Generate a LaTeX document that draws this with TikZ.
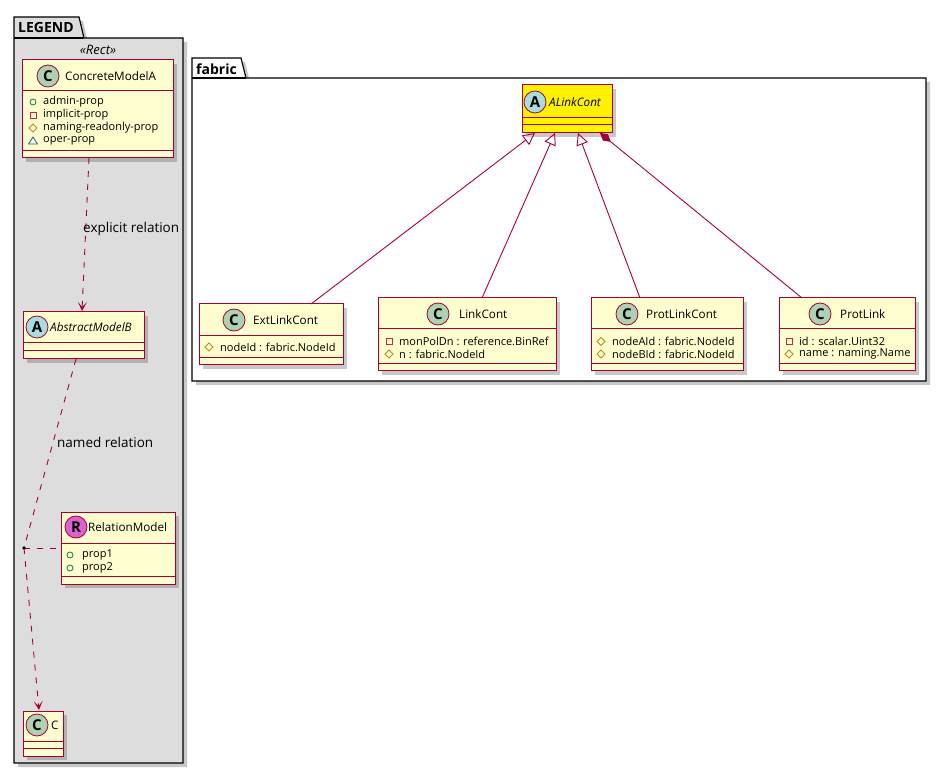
\documentclass[tikz,border=0pt]{standalone}
\usepackage{fontspec}
\setmainfont{Open Sans}
\usetikzlibrary{shadows,arrows.meta,calc}
\definecolor{bord}{HTML}{A80036}
\definecolor{classbg}{HTML}{FEFECE}
\definecolor{legendbg}{HTML}{DDDDDD}
\definecolor{cgreen}{HTML}{ADD1B2}
\definecolor{cblue}{HTML}{A9DCDF}
\definecolor{cmag}{HTML}{DA62CF}
\definecolor{pubc}{HTML}{038048}
\definecolor{privc}{HTML}{C82930}
\definecolor{protc}{HTML}{B38D22}
\definecolor{pkgc}{HTML}{1963A0}
\newcommand\pubicon[2]{\draw[pubc,line width=0.8pt] (#1,#2) circle (3);}
\newcommand\privicon[2]{\draw[privc,line width=0.8pt] ({#1-3},{#2-3}) rectangle ({#1+3},{#2+3});}
\newcommand\proticon[2]{\draw[protc,line width=0.8pt] ({#1},{#2-4}) -- ({#1+4},{#2}) -- ({#1},{#2+4}) -- ({#1-4},{#2}) -- cycle;}
\newcommand\pkgicon[2]{\draw[pkgc,line width=0.8pt] ({#1},{#2-4}) -- ({#1+4.5},{#2+3}) -- ({#1-4.5},{#2+3}) -- cycle;}
\tikzset{
  shad/.style={drop shadow={shadow xshift=4pt,shadow yshift=-4pt,opacity=0.3,fill=black!70}},
  classbox/.style={draw=bord,line width=1pt,rectangle,inner sep=0pt,outer sep=0pt,anchor=north west,shad},
  sepline/.style={draw=bord,line width=1pt},
  circ/.style={circle,draw=bord,line width=0.8pt,minimum size=22pt,inner sep=0pt,font=\fontsize{15}{15}\selectfont\bfseries},
  cname/.style={anchor=west,inner sep=0pt,font=\fontsize{11.7}{13}\selectfont},
  attr/.style={anchor=west,inner sep=0pt,font=\fontsize{11}{11}\selectfont},
  lbl/.style={anchor=west,inner sep=0pt,font=\fontsize{13.5}{15}\selectfont},
  pkgtitle/.style={anchor=west,inner sep=0pt,font=\fontsize{14}{16}\selectfont\bfseries},
  pkg/.style={draw=black,line width=1.2pt},
  conn/.style={draw=bord,line width=0.9pt},
  dep/.style={conn,dash pattern=on 6pt off 7pt},
  arr/.style={-{Stealth[length=9pt,width=9pt,inset=5pt]}},
  inh/.style={-{Triangle[open,length=12pt,width=12pt]}},
  comp/.style={{Diamond[length=14pt,width=8pt,fill=bord]}-}
}
\begin{document}
\begin{tikzpicture}[x=1pt,y=-1pt]
\useasboundingbox[fill=white] (0,0) rectangle (945,775);

% ---------- LEGEND package ----------
\path[pkg,fill=legendbg,shad] (14,17) -- (79,17) -- (84,38) -- (183,38) -- (183,763) -- (14,763) -- cycle;
\draw[pkg] (14,38) -- (84,38);
\node[pkgtitle] (legendt) at (18,28) {LEGEND};
\node[anchor=center,inner sep=0pt,font=\fontsize{13}{15}\selectfont\itshape] (stereo) at (98,50) {«Rect»};

% ---------- fabric package ----------
\path[pkg,fill=white,shad] (192,58) -- (241,58) -- (246,78) -- (926,78) -- (926,381) -- (192,381) -- cycle;
\draw[pkg] (192,78) -- (246,78);
\node[pkgtitle] (fabrict) at (196,69) {fabric};

% ---------- ConcreteModelA ----------
\node[classbox,fill=classbg,minimum width=151,minimum height=98] (cA) at (22,60) {};
\draw[sepline] (22,91) -- (173,91);
\draw[sepline] (22,151) -- (173,151);
\node[circ,fill=cgreen] (cAi) at (48,76) {C};
\node[cname] (cAn) at (65,76) {ConcreteModelA};
\pubicon{33}{102}\node[attr] (cAa1) at (43,102) {admin-prop};
\privicon{33}{115}\node[attr] (cAa2) at (43,115) {implicit-prop};
\proticon{33}{128}\node[attr] (cAa3) at (43,128) {naming-readonly-prop};
\pkgicon{33}{141}\node[attr] (cAa4) at (43,141) {oper-prop};

% ---------- AbstractModelB ----------
\node[classbox,fill=classbg,minimum width=121,minimum height=47] (aB) at (23,312) {};
\draw[sepline] (23,343) -- (144,343);
\draw[sepline] (23,351) -- (144,351);
\node[circ,fill=cblue] (aBi) at (37,327) {A};
\node[cname,font=\fontsize{11.7}{13}\selectfont\itshape] (aBn) at (50,327) {AbstractModelB};

% ---------- RelationModel ----------
\node[classbox,fill=classbg,minimum width=114,minimum height=72] (rel) at (61,512) {};
\draw[sepline] (61,543) -- (175,543);
\draw[sepline] (61,576) -- (175,576);
\node[circ,fill=cmag] (reli) at (76,527) {R};
\node[cname] (reln) at (88,527) {RelationModel};
\pubicon{70}{555}\node[attr] (rela1) at (82,555) {prop1};
\pubicon{70}{568}\node[attr] (rela2) at (82,568) {prop2};

% ---------- C ----------
\node[classbox,fill=classbg,minimum width=40,minimum height=45] (cC) at (23,711) {};
\draw[sepline] (23,741) -- (63,741);
\draw[sepline] (23,748) -- (63,748);
\node[circ,fill=cgreen] (cCi) at (37,725) {C};
\node[cname] (cCn) at (51,725) {C};

% ---------- legend connectors ----------
\coordinate (cAb) at ($(cA.south west)+(67,0)$);
\coordinate (aBt) at ($(aB.north west)+(59,-1)$);
\draw[dep,arr] (cAb) -- (aBt);
\node[lbl] (explbl) at (83,229) {explicit relation};

\coordinate (aBb) at ($(aB.south west)+(53,0)$);
\coordinate (dot) at (24,548);
\coordinate (cCt) at ($(cC.north west)+(16,-1)$);
\draw[dep] (aBb) -- (dot);
\draw[dep,arr] (dot) -- (cCt);
\draw[dep] (dot) -- (rel.west |- dot);
\fill[black] (dot) circle (1.8);
\node[lbl] (namlbl) at (57,442) {named relation};

% ---------- ALinkCont ----------
\node[classbox,fill=yellow,minimum width=90,minimum height=48] (alink) at (522,85) {};
\draw[sepline] (522,118) -- (612,118);
\draw[sepline] (522,125) -- (612,125);
\node[circ,fill=cblue] (alinki) at (535,102) {A};
\node[cname,font=\fontsize{11.7}{13}\selectfont\itshape] (alinkn) at (549,102) {ALinkCont};

% ---------- ExtLinkCont ----------
\node[classbox,fill=classbg,minimum width=144,minimum height=61] (ext) at (199,304) {};
\draw[sepline] (199,336) -- (343,336);
\draw[sepline] (199,358) -- (343,358);
\node[circ,fill=cgreen] (exti) at (234,320) {C};
\node[cname] (extn) at (253,320) {ExtLinkCont};
\proticon{209}{347}\node[attr] (exta1) at (220,347) {nodeId : fabric.NodeId};

% ---------- LinkCont ----------
\node[classbox,fill=classbg,minimum width=178,minimum height=73] (link) at (378,298) {};
\draw[sepline] (378,329) -- (556,329);
\draw[sepline] (378,364) -- (556,364);
\node[circ,fill=cgreen] (linki) at (438,314) {C};
\node[cname] (linkn) at (459,314) {LinkCont};
\privicon{389}{341.5}\node[attr] (linka1) at (399,341.5) {monPolDn : reference.BinRef};
\proticon{389}{354}\node[attr] (linka2) at (399,354) {n : fabric.NodeId};

% ---------- ProtLinkCont ----------
\node[classbox,fill=classbg,minimum width=152,minimum height=73] (plc) at (591,298) {};
\draw[sepline] (591,329) -- (743,329);
\draw[sepline] (591,364) -- (743,364);
\node[circ,fill=cgreen] (plci) at (627,314) {C};
\node[cname] (plcn) at (646,314) {ProtLinkCont};
\proticon{601}{341.5}\node[attr] (plca1) at (612,341.5) {nodeAId : fabric.NodeId};
\proticon{601}{354}\node[attr] (plca2) at (612,354) {nodeBId : fabric.NodeId};

% ---------- ProtLink ----------
\node[classbox,fill=classbg,minimum width=136,minimum height=73] (pl) at (779,298) {};
\draw[sepline] (779,329) -- (915,329);
\draw[sepline] (779,364) -- (915,364);
\node[circ,fill=cgreen] (pli) at (820,314) {C};
\node[cname] (pln) at (840,314) {ProtLink};
\privicon{789}{341.5}\node[attr] (pla1) at (799,341.5) {id : scalar.Uint32};
\proticon{789}{354}\node[attr] (pla2) at (799,354) {name : naming.Name};

% ---------- fabric connectors ----------
\coordinate (a1) at ($(alink.south west)+(13,0)$);
\coordinate (a2) at ($(alink.south west)+(33,0)$);
\coordinate (a3) at ($(alink.south west)+(56,0)$);
\coordinate (a4) at ($(alink.south west)+(78,0)$);
\coordinate (e1) at ($(ext.north west)+(112,0)$);
\coordinate (l1) at ($(link.north west)+(104,0)$);
\coordinate (p1) at ($(plc.north west)+(49,0)$);
\coordinate (q1) at ($(pl.north west)+(23,0)$);
\draw[conn,inh] (e1) -- (a1);
\draw[conn,inh] (l1) -- (a2);
\draw[conn,inh] (p1) -- (a3);
\draw[conn,comp] (a4) -- (q1);
\end{tikzpicture}
\end{document}
